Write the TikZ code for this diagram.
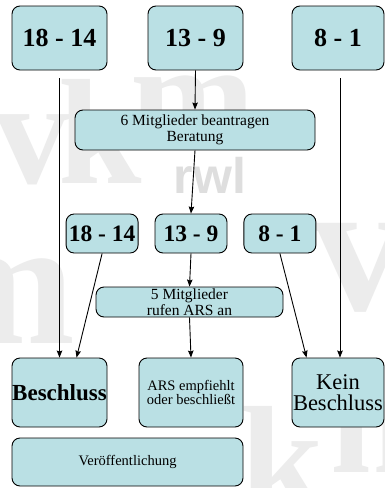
\documentclass[tikz,border=0pt]{standalone}
\usepackage{fontspec}
\setmainfont{Liberation Serif}
\setsansfont{Liberation Sans}
\usetikzlibrary{arrows.meta,positioning}
\definecolor{boxcyan}{RGB}{186,224,228}
\definecolor{markgray}{RGB}{236,236,236}
\definecolor{markdark}{RGB}{222,222,222}
\tikzset{
    %Define standard arrow tip
    >={Stealth[length=7pt, width=5.5pt, inset=1pt]},
    %Define style for boxes
    votebox/.style={
           rectangle,
           rounded corners=8pt,
           draw=black, line width=0.9pt,
           fill=boxcyan,
           inner sep=0pt,
           align=center},
    bigcount/.style={
           votebox,
           minimum height=64pt,
           font=\bfseries\fontsize{26}{30}\selectfont},
    smallcount/.style={
           votebox,
           minimum width=72pt,
           minimum height=39pt,
           font=\bfseries\fontsize{23.5}{26}\selectfont},
    textbox/.style={
           votebox,
           font=\fontsize{15.5}{16}\selectfont},
    % Define arrow style
    pfeil/.style={
           ->,
           line width=0.9pt},
    % Define style for background logo
    watermark/.style={
           text=markgray,
           anchor=base,
           inner sep=0pt,
           font=\bfseries\fontsize{150}{150}\selectfont}
}
\begin{document}
\begin{tikzpicture}[x=1pt, y=-1pt]
 \useasboundingbox[fill=white] (0,0) rectangle (384,488);

 % background logo
 \node[watermark] (wmv) at (32,183) {v};
 \node[watermark] (wmk) at (100,183) {k};
 \node[watermark] (wmm) at (193,146) {m};
 \node[watermark, text=markdark, font=\sffamily\bfseries\fontsize{50}{50}\selectfont] (wmrwl) at (210,193) {rwl};
 \node[watermark, font=\bfseries\fontsize{180}{180}\selectfont] (wmmleft) at (0,343) {m};
 \node[watermark, font=\bfseries\fontsize{190}{190}\selectfont] (wmvright) at (360,310) {v};
 \node[watermark] (wmkbottom) at (282,510) {k};
 \node[watermark] (wmmbottom) at (393,472) {m};

 % first vote
 \node[bigcount, minimum width=95pt] (first1) at (59.5,38) {18 - 14};
 \node[bigcount, minimum width=95pt] (first2) at (195.5,38) {13 - 9};
 \node[bigcount, minimum width=92pt] (first3) at (338,38) {8 - 1};

 \node[textbox, minimum width=240pt, minimum height=40pt] (antrag) at (195,130)
    {6 Mitglieder beantragen\\Beratung};

 % second vote
 \node[smallcount] (second2) at (191,233.5) {13 - 9};
 \node[smallcount, left=16pt of second2] (second1) {18 - 14};
 \node[smallcount, right=16pt of second2] (second3) {8 - 1};

 \node[textbox, minimum width=187pt, minimum height=30pt] (ars) at (189.5,302)
    {5 Mitglieder\\rufen ARS an};

 % results
 \node[votebox, minimum width=95pt, minimum height=69pt,
       font=\bfseries\fontsize{23}{24}\selectfont] (beschluss) at (59.5,392.5) {Beschluss};
 \node[votebox, minimum width=104pt, minimum height=69pt,
       font=\fontsize{14.5}{14}\selectfont] (empfehlung) at (191,392.5)
    {ARS empfiehlt\\oder beschließt};
 \node[votebox, minimum width=92pt, minimum height=69pt,
       font=\fontsize{22.5}{21}\selectfont] (kein) at (338,392.5) {Kein\\Beschluss};

 \node[textbox, minimum width=231pt, minimum height=48pt,
       font=\fontsize{14.5}{16}\selectfont] (veroeffentlichung) at (127.5,462) {Veröffentlichung};

 % connectors
 \draw[pfeil, shorten <=8pt] (first1.south) -- (beschluss.north);
 \draw[pfeil, shorten <=8pt] ([xshift=2pt]first3.south) -- ([xshift=2pt]kein.north);
 \draw[pfeil] (first2.south) -- (antrag.north);
 \draw[pfeil] (antrag.south) -- (second2.north);
 \draw[pfeil] (second2.south) -- (ars.north);
 \draw[pfeil] (ars.south) -- (empfehlung.north);
 \draw[pfeil] (second1.south) -- (beschluss.64);
 \draw[pfeil] (second3.south) -- (kein.132);

\end{tikzpicture}
\end{document}
